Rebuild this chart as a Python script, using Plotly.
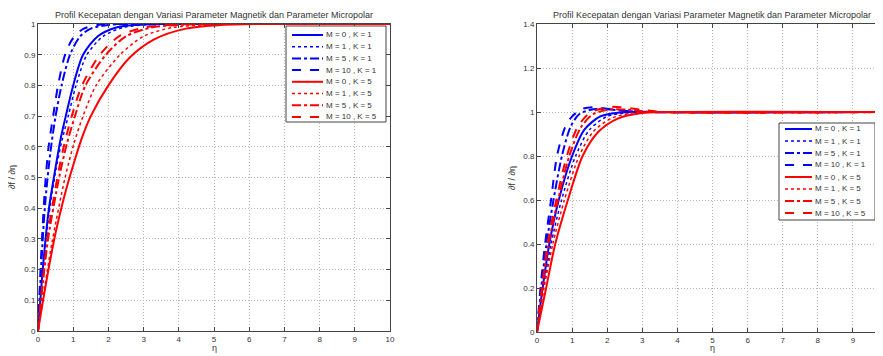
import plotly.graph_objects as go

# page is 883x356; the html body adds an 8px offset, so the figure is 875x348
OFF = 8
W, H = 883 - OFF, 356 - OFF

TITLE = "Profil Kecepatan dengan Variasi Parameter Magnetik dan Parameter Micropolar"
X_LABEL = "η"
Y_LABEL = "∂f / ∂η"

SERIES_NAMES = ["M = 0 , K = 1", "M = 1 , K = 1", "M = 5 , K = 1", "M = 10 , K = 1",
                "M = 0 , K = 5", "M = 1 , K = 5", "M = 5 , K = 5", "M = 10 , K = 5"]
SERIES_COLORS = ["#0000ff"] * 4 + ["#ff0000"] * 4
SERIES_DASH = ["solid", "dot", "dashdot", "dash"] * 2

# ---- left panel data (eta, f') ----
L_ETA = [
    [0, 0.15, 0.3, 0.48, 0.65, 0.81, 1.0, 1.28, 1.7, 2.2, 2.8, 3.5, 10],
    [0, 0.15, 0.3, 0.5, 0.68, 0.86, 1.08, 1.39, 1.85, 2.4, 3.0, 3.7, 10],
    [0, 0.1, 0.2, 0.35, 0.5, 0.67, 0.91, 1.2, 1.5, 2.0, 2.6, 10],
    [0, 0.1, 0.2, 0.3, 0.43, 0.57, 0.77, 1.0, 1.3, 1.7, 2.2, 3.0, 10],
    [0, 0.25, 0.5, 0.75, 1.0, 1.25, 1.5, 2.0, 2.6, 3.3, 4.2, 5.2, 6.2, 10],
    [0, 0.2, 0.4, 0.77, 1.02, 1.28, 1.65, 2.33, 3.0, 3.8, 4.7, 5.5, 10],
    [0, 0.15, 0.3, 0.6, 0.82, 1.05, 1.35, 1.93, 2.5, 3.2, 4.0, 4.8, 10],
    [0, 0.15, 0.3, 0.55, 0.75, 0.96, 1.25, 1.76, 2.3, 3.0, 3.8, 4.5, 10],
]
L_F = [
    [0, 0.22, 0.39, 0.52, 0.63, 0.71, 0.8, 0.9, 0.96, 0.988, 0.997, 1, 1],
    [0, 0.2, 0.37, 0.52, 0.62, 0.7, 0.8, 0.9, 0.96, 0.988, 0.997, 1, 1],
    [0, 0.23, 0.41, 0.58, 0.7, 0.8, 0.9, 0.96, 0.985, 0.997, 1, 1],
    [0, 0.27, 0.47, 0.6, 0.7, 0.8, 0.9, 0.955, 0.985, 0.997, 1, 1, 1],
    [0, 0.17, 0.32, 0.44, 0.54, 0.63, 0.7, 0.8, 0.89, 0.95, 0.985, 0.997, 1, 1],
    [0, 0.15, 0.29, 0.5, 0.61, 0.7, 0.8, 0.9, 0.96, 0.988, 0.997, 1, 1],
    [0, 0.17, 0.31, 0.5, 0.61, 0.7, 0.8, 0.9, 0.96, 0.988, 0.997, 1, 1],
    [0, 0.18, 0.33, 0.5, 0.61, 0.7, 0.8, 0.9, 0.96, 0.988, 0.997, 1, 1],
]

# ---- right panel data (eta, f') ----
R_ETA = [
    [0, 0.16, 0.35, 0.62, 1.0, 1.35, 1.8, 2.3, 3.0, 10],
    [0, 0.18, 0.4, 0.7, 1.1, 1.5, 2.0, 2.6, 3.2, 10],
    [0, 0.12, 0.27, 0.47, 0.71, 0.95, 1.2, 1.6, 2.0, 2.6, 3.2, 10],
    [0, 0.1, 0.23, 0.4, 0.57, 0.8, 1.0, 1.3, 1.6, 2.0, 2.5, 3.0, 10],
    [0, 0.26, 0.52, 0.88, 1.3, 1.75, 2.3, 3.0, 3.6, 10],
    [0, 0.2, 0.45, 0.78, 1.2, 1.6, 2.1, 2.7, 3.4, 10],
    [0, 0.15, 0.33, 0.6, 0.92, 1.25, 1.6, 2.1, 2.6, 3.3, 10],
    [0, 0.14, 0.3, 0.55, 0.85, 1.15, 1.5, 2.0, 2.4, 3.0, 3.6, 10],
]
R_F = [
    [0, 0.2, 0.4, 0.6, 0.8, 0.92, 0.98, 0.997, 1.0, 1.0],
    [0, 0.2, 0.4, 0.6, 0.8, 0.92, 0.98, 0.997, 1.0, 1.0],
    [0, 0.2, 0.4, 0.6, 0.8, 0.93, 0.99, 1.012, 1.012, 1.004, 1.0, 1.0],
    [0, 0.2, 0.4, 0.6, 0.8, 0.93, 0.98, 1.015, 1.022, 1.015, 1.005, 1.0, 1.0],
    [0, 0.2, 0.4, 0.6, 0.8, 0.91, 0.97, 0.995, 1.0, 1.0],
    [0, 0.2, 0.4, 0.6, 0.8, 0.91, 0.97, 0.995, 1.0, 1.0],
    [0, 0.2, 0.4, 0.6, 0.8, 0.93, 0.99, 1.012, 1.01, 1.0, 1.0],
    [0, 0.2, 0.4, 0.6, 0.8, 0.93, 0.995, 1.022, 1.022, 1.01, 1.0, 1.0],
]

L_XTICKS = list(range(0, 11))
L_YTICKS = [0, 0.1, 0.2, 0.3, 0.4, 0.5, 0.6, 0.7, 0.8, 0.9, 1]
R_XTICKS = list(range(0, 10))
R_YTICKS = [0, 0.2, 0.4, 0.6, 0.8, 1, 1.2, 1.4]


def PX(x):
    # page pixel -> paper fraction
    return (x - OFF) / W


def PY(y):
    return 1 - (y - OFF) / H


FONT = "Liberation Sans, Arial, sans-serif"
TXT = "#333333"
AX = "#444444"


def lw(d):
    return 1.5 if d == "dot" else 2


fig = go.Figure()
for i in range(8):
    fig.add_trace(go.Scatter(x=L_ETA[i], y=L_F[i], mode="lines", name=SERIES_NAMES[i],
                             line=dict(color=SERIES_COLORS[i], dash=SERIES_DASH[i],
                                       width=lw(SERIES_DASH[i]), shape="spline", smoothing=0.8),
                             xaxis="x", yaxis="y", showlegend=False))
for i in range(8):
    fig.add_trace(go.Scatter(x=R_ETA[i], y=R_F[i], mode="lines", name=SERIES_NAMES[i],
                             line=dict(color=SERIES_COLORS[i], dash=SERIES_DASH[i],
                                       width=lw(SERIES_DASH[i]), shape="spline", smoothing=0.8),
                             xaxis="x2", yaxis="y2", showlegend=False))

axis_common = dict(showline=True, linecolor=AX, linewidth=1, mirror="ticks",
                   ticks="inside", ticklen=4, tickcolor=AX,
                   showgrid=True, gridcolor="#b4b4b4", griddash="1px,2px", gridwidth=1,
                   zeroline=False, tickfont=dict(family=FONT, size=8, color=TXT))

# right axis extends past the page edge: 35.1 px per unit
r_xmax = (883 - 537) / 35.1

fig.update_layout(
    width=W, height=H,
    margin=dict(l=0, r=0, t=0, b=0, autoexpand=False),
    paper_bgcolor="white", plot_bgcolor="white",
    xaxis=dict(domain=[PX(38), PX(390)], range=[0, 10], tickvals=L_XTICKS, anchor="y", **axis_common),
    yaxis=dict(domain=[PY(331), PY(24)], range=[0, 1], tickvals=L_YTICKS, anchor="x", **axis_common),
    xaxis2=dict(domain=[PX(537), 1.0], range=[0, r_xmax], tickvals=R_XTICKS, anchor="y2", **axis_common),
    yaxis2=dict(domain=[PY(332), PY(24)], range=[0, 1.4], tickvals=R_YTICKS, anchor="x2", **axis_common),
    showlegend=False,
)

annotations = []
shapes = []

for cx in [214, 712]:
    annotations.append(dict(text=TITLE, x=PX(cx), y=PY(15), xref="paper", yref="paper",
                            showarrow=False, xanchor="center", yanchor="middle",
                            font=dict(family=FONT, size=9, color=TXT)))
    annotations.append(dict(text=X_LABEL, x=PX(cx), y=PY(348), xref="paper", yref="paper",
                            showarrow=False, xanchor="center", yanchor="middle",
                            font=dict(family=FONT, size=9, color=TXT)))
for cx, cy in [(12, 177), (512, 178)]:
    annotations.append(dict(text=Y_LABEL, x=PX(cx), y=PY(cy), xref="paper", yref="paper",
                            showarrow=False, xanchor="center", yanchor="middle", textangle=-90,
                            font=dict(family=FONT, size=9, color=TXT)))


def add_legend(bx0, by0, bx1, by1, ly0, step, lx0, lx1, tx):
    shapes.append(dict(type="rect", xref="paper", yref="paper",
                       x0=PX(bx0), x1=PX(bx1), y0=PY(by1), y1=PY(by0),
                       line=dict(color=AX, width=1), fillcolor="white", layer="above"))
    for i, nm in enumerate(SERIES_NAMES):
        yy = ly0 + i * step
        shapes.append(dict(type="line", xref="paper", yref="paper",
                           x0=PX(lx0), x1=PX(lx1), y0=PY(yy), y1=PY(yy), layer="above",
                           line=dict(color=SERIES_COLORS[i], dash=SERIES_DASH[i],
                                     width=lw(SERIES_DASH[i]))))
        annotations.append(dict(text=nm, x=PX(tx), y=PY(yy), xref="paper", yref="paper",
                                showarrow=False, xanchor="left", yanchor="middle",
                                font=dict(family=FONT, size=8, color=TXT)))


add_legend(286, 26, 386, 122, 35, 11.7, 292, 323, 324)
add_legend(779, 123, 875, 220, 129, 12, 785, 812, 813)

fig.update_layout(annotations=annotations, shapes=shapes)
fig.write_html("out.html")
